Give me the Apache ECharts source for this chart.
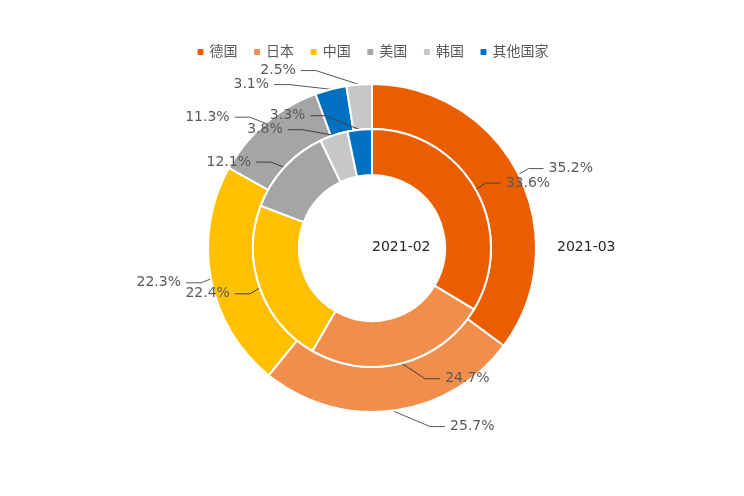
<!DOCTYPE html>
<html><head><meta charset="utf-8">
<script src="https://cdn.jsdelivr.net/npm/echarts@6/dist/echarts.min.js"></script>
<style>html,body{margin:0;padding:0;background:#fff}#c{width:744px;height:496px}</style>
</head><body><div id="c"></div>
<script>
const legendNames = ['德国','日本','中国','美国','韩国','其他国家'];
const colorsByName = {'德国':'#EB5E00','日本':'#F28E4B','中国':'#FFC000','美国':'#A5A5A5','韩国':'#C7C7C7','其他国家':'#0070C0'};
const innerName = '2021-02';
const innerCats = ['德国','日本','中国','美国','韩国','其他国家'];
const innerVals = [33.6, 24.7, 22.4, 12.1, 3.8, 3.3];
const outerName = '2021-03';
const outerCats = ['德国','日本','中国','美国','其他国家','韩国'];
const outerVals = [35.2, 25.7, 22.3, 11.3, 3.1, 2.5];

const CENTER = [372, 248];
const INNER_R = [73, 119];
const OUTER_R = [119, 164];
const LEN = 15, LEN2 = 15, DIST = 5, LABEL_H = 14, VIEW_H = 496, TEXT_DY = 1;

const chart = echarts.init(document.getElementById('c'));
function mk(cats, vals){ return cats.map((n,i)=>({name:n, value:vals[i], itemStyle:{color:colorsByName[n]}})); }

// classic (v4-style) outside-label layout, built on the library's own label anchor points
const natural = {}; let adjusted = null;
function labelLayoutFn(p){
  const key = p.seriesIndex + ':' + p.dataIndex;
  if (!adjusted){ natural[key] = {s:p.seriesIndex, i:p.dataIndex, pts:p.labelLinePoints}; return {}; }
  return adjusted[key] || {};
}
function adjustSide(list, cx, cy, r, dir){
  list.sort((a,b)=>a.y-b.y);
  const n = list.length;
  function shiftUp(end, delta){
    for (let j=end; j>=0; j--){
      if (list[j].y - delta < 0) break;
      list[j].y -= delta;
      if (j>0 && list[j].y > list[j-1].y + LABEL_H) break;
    }
  }
  function shiftDown(start, end, delta){
    for (let j=start; j<end; j++){
      if (list[j].y + delta > VIEW_H) break;
      list[j].y += delta;
      if (j>start && j+1<end && list[j+1].y > list[j].y + LABEL_H){ shiftUp(j, delta/2); return; }
    }
    shiftUp(end-1, delta/2);
  }
  let lastY = 0;
  for (let i=0;i<n;i++){
    const d = list[i].y - lastY;
    if (d < 0) shiftDown(i, n, -d);
    lastY = list[i].y + LABEL_H;
  }
  const up = list.filter(it=>it.y < cy), down = list.filter(it=>it.y >= cy);
  function changeX(arr, isDown){
    let last = isDown ? Number.MAX_VALUE : 0;
    arr.forEach(it=>{
      const dy = Math.abs(it.y - cy);
      let dx = dy < r + LEN ? Math.sqrt((r+LEN+LEN2)*(r+LEN+LEN2) - dy*dy) : Math.abs(it.x - cx);
      if (isDown && dx >= last) dx = last - 10;
      if (!isDown && dx <= last) dx = last + 10;
      it.x = cx + dx*dir; last = dx;
    });
  }
  changeX(up, false); changeX(down, true);
}
function computeLayout(radii){
  const out = {};
  radii.forEach((rad, s)=>{
    const cx = CENTER[0], cy = CENTER[1], r = rad[1];
    const items = Object.values(natural).filter(n=>n.s===s && n.pts).map(n=>{
      const [p0,p1,p2] = n.pts;
      const d = p2[0] >= p1[0] ? 1 : -1;
      return {key:s+':'+n.i, p0:p0, x:p2[0] + d*DIST, y:p1[1]};
    });
    adjustSide(items.filter(it=>it.x >= cx), cx, cy, r, 1);
    adjustSide(items.filter(it=>it.x < cx), cx, cy, r, -1);
    items.forEach(it=>{
      const d = it.x < cx ? -1 : 1;
      const p2x = it.x - d*DIST, p1x = p2x - d*LEN2;
      const y = it.y + TEXT_DY;
      out[it.key] = {x:it.x, y:y, align: d>0?'left':'right', verticalAlign:'middle',
        labelLinePoints:[[it.p0[0], it.p0[1]],[p1x, y],[p2x, y]]};
    });
  });
  return out;
}

const labelCfg = {
  show:true, position:'outside', formatter: p => p.value.toFixed(1)+'%',
  color:'#595959', fontSize:14, fontFamily:'DejaVu Sans'
};
function buildOption(){
  return {
    animation:false,
    legend:{ data:legendNames, top:40, left:'center', icon:'roundRect', itemWidth:8, itemHeight:8, itemGap:14.6,
      textStyle:{color:'#595959', fontSize:14, fontFamily:'DejaVu Sans, Noto Sans CJK SC'} },
    graphic:[
      {type:'text', left:372, top:240, style:{text:innerName, fill:'#262626', font:'14px DejaVu Sans'}},
      {type:'text', left:557, top:240, style:{text:outerName, fill:'#262626', font:'14px DejaVu Sans'}}
    ],
    series:[
      { name:innerName, type:'pie', z:3, center:CENTER, radius:INNER_R, startAngle:90, clockwise:true,
        avoidLabelOverlap:false,
        itemStyle:{borderColor:'#fff', borderWidth:2},
        label:labelCfg, labelLine:{show:true, length:LEN, length2:LEN2, lineStyle:{color:'#404040', width:1}},
        labelLayout: labelLayoutFn,
        data: mk(innerCats, innerVals) },
      { name:outerName, type:'pie', z:2, center:CENTER, radius:OUTER_R, startAngle:90, clockwise:true,
        avoidLabelOverlap:false,
        itemStyle:{borderColor:'#fff', borderWidth:2},
        label:labelCfg, labelLine:{show:true, length:LEN, length2:LEN2, lineStyle:{color:'#595959', width:1}},
        labelLayout: labelLayoutFn,
        data: mk(outerCats, outerVals) }
    ]
  };
}
chart.setOption(buildOption());
adjusted = computeLayout([INNER_R, OUTER_R]);
chart.setOption(buildOption(), true);
</script></body></html>
